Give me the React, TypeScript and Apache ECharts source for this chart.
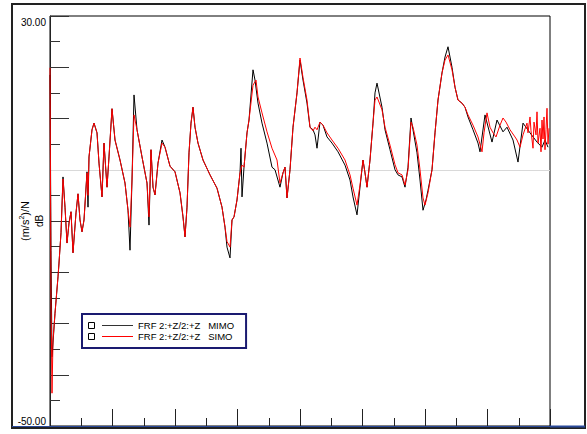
import React, { useEffect, useRef } from "react";
import * as echarts from "echarts";

// Frequency (Hz) and magnitude (dB)
const freqMIMO = [0,1,2,3,5,8,9,11,13,15,17,19,21,23,26,28,30,32,34,37,38,39,42,44,47,49,52,54,57,59,62,65,70,75,78,80,82,84,87,92,97,99,101,103,105,108,112,115,120,125,130,133,135,137,139,141,143,145,148,153,160,167,172,175,177,180,182,184,187,190,191,192,194,197,199,203,205,208,212,217,222,225,230,233,235,237,240,243,247,250,253,257,260,263,265,267,270,273,277,282,288,295,300,303,307,310,313,315,317,320,323,325,327,332,335,340,345,348,352,355,358,361,363,367,370,373,376,378,382,385,388,392,395,398,402,405,408,412,415,418,423,428,430,435,442,447,453,457,463,468,473,480,487,492,495,498];
const dbMIMO = [18.5,-15.7,-36.5,-33.8,-28.0,-20.9,-18.2,-12.3,-1.4,-7.3,-14.3,-10.4,-8.2,-16.2,-8.4,-4.7,-9.8,-12.1,-9.8,-0.4,-7.3,2.5,7.8,9.1,7.2,1.3,-5.3,5.2,-3.4,2.5,11.9,5.8,1.9,-2.6,-7.9,-15.7,-2.0,14.6,7.8,2.5,-2.6,-10.8,3.9,-3.4,-4.9,1.3,5.8,4.4,0.7,-0.4,-4.5,-9.2,-13.1,-7.3,3.3,9.1,12.2,8.3,5.2,1.9,-1.0,-3.6,-7.3,-11.2,-15.1,-17.2,-9.8,-9.2,-5.9,-0.6,4.2,-5.3,0.5,7.2,9.7,19.5,17.5,13.0,9.1,5.2,0.5,0.0,-3.4,-0.6,0.5,-5.5,0.0,8.3,15.0,21.4,17.5,13.0,8.3,7.8,6.8,4.2,9.3,8.7,6.4,5.2,3.5,0.9,-2.0,-5.3,-8.8,-3.4,1.9,-0.6,-3.4,1.9,9.1,15.0,16.9,12.2,7.8,3.9,0.0,-1.0,-1.4,-3.4,0.5,10.1,7.8,3.3,-2.0,-7.9,-5.9,-4.0,0.0,7.2,13.6,18.9,22.0,24.0,20.0,16.1,13.6,13.0,12.2,10.3,7.8,5.2,3.5,10.7,5.4,9.7,7.4,8.3,5.8,1.5,9.1,7.2,5.4,4.4,5.8,4.4];

const freqSIMO = [0,1,2,3,5,8,9,11,13,15,17,19,21,23,26,28,30,32,34,37,38,39,42,44,47,49,52,54,57,59,62,65,70,75,78,80,82,84,87,92,97,99,101,103,105,108,112,115,120,125,130,133,135,137,139,141,143,145,148,153,160,167,172,175,177,180,182,184,187,190,192,194,197,199,203,206,208,212,217,222,227,230,233,235,237,240,243,247,250,253,257,260,263,265,267,270,273,277,282,288,295,300,303,307,310,313,315,317,320,323,325,327,332,335,340,345,348,352,355,358,361,363,367,370,373,375,378,382,385,388,392,395,398,402,405,408,412,415,418,423,428,432,434,437,440,443,446,450,453,456,460,465,467,470,473,477,478,480,481,483,484,486,487,488,490,491,492,493,494,495,496,497,498,499];
const dbSIMO = [19.9,-25.4,-43.6,-33.2,-28.0,-20.9,-18.2,-12.3,-1.8,-7.3,-14.3,-10.4,-8.2,-16.2,-8.4,-4.7,-9.8,-12.1,-9.8,-0.6,-5.0,2.5,7.8,9.1,7.2,1.3,-5.3,5.2,-3.4,2.5,11.9,5.8,1.9,-2.6,-7.9,-11.2,-2.0,10.7,7.8,2.5,-2.6,-9.2,3.9,-3.4,-4.9,1.3,5.2,4.4,0.7,-0.4,-4.5,-9.2,-13.1,-7.3,3.3,9.1,12.2,8.3,5.2,1.9,-1.0,-3.6,-7.3,-11.2,-14.0,-15.1,-9.8,-9.2,-5.9,-0.6,0.9,0.5,7.2,9.7,16.5,17.5,14.2,11.1,7.4,4.2,1.9,-2.6,-0.6,0.5,-5.5,0.0,8.3,15.0,21.8,18.0,13.6,8.3,7.6,8.3,7.8,9.3,8.7,7.2,5.8,4.2,1.9,-1.0,-3.6,-6.9,-3.0,1.9,-0.6,-3.4,1.9,9.1,13.6,14.2,11.7,8.3,4.8,1.0,-0.6,-1.0,-3.0,0.0,9.3,8.3,4.8,0.0,-5.5,-6.9,-4.5,0.0,7.2,13.6,18.9,21.4,22.4,19.5,16.1,13.6,13.0,12.2,10.7,8.7,6.4,3.5,7.2,11.1,8.3,7.2,6.4,8.7,10.1,9.3,7.8,6.4,5.8,4.4,6.8,9.1,7.2,10.3,7.6,4.2,9.3,6.8,11.3,5.2,8.1,3.5,9.7,6.0,10.3,3.9,7.8,12.0,5.0,8.1];

const seriesNames = ["FRF 2:+Z/2:+Z   MIMO", "FRF 2:+Z/2:+Z   SIMO"];
const yTickLabels = ["30.00", "-50.00"];
const yTitle = "{u|(m/s}{s|2}{u|)/N}\n{d|dB}";

const FONT = "'Liberation Sans', Arial, sans-serif";

export default function App() {
  const ref = useRef<HTMLDivElement>(null);
  useEffect(() => {
    if (!ref.current) return;
    const chart = echarts.init(ref.current, null, { renderer: "svg" });
    const mimo = freqMIMO.map((f, i) => [f, dbMIMO[i]]);
    const simo = freqSIMO.map((f, i) => [f, dbSIMO[i]]);
    chart.setOption({
      animation: false,
      backgroundColor: "#ffffff",
      grid: {
        left: 50, right: 37, top: 16, bottom: 8,
        containLabel: false, outerBoundsMode: "none",
        show: true, borderColor: "#000", borderWidth: 1,
      },
      xAxis: {
        type: "value", min: 0, max: 500, interval: 62.5,
        axisLine: { show: true, onZero: false, lineStyle: { color: "#2a4a9a", width: 1 } },
        axisTick: { show: true, inside: true, length: 17, lineStyle: { color: "#222" } },
        minorTick: { show: true, splitNumber: 2, length: 8, lineStyle: { color: "#222" } },
        axisLabel: { show: false },
        splitLine: { show: false },
      },
      yAxis: {
        type: "value", min: -50, max: 30, interval: 10,
        axisLine: { show: true, onZero: false, lineStyle: { color: "#222", width: 1 } },
        axisTick: { show: true, inside: true, length: 19, lineStyle: { color: "#333" } },
        minorTick: { show: true, splitNumber: 2, length: 10, lineStyle: { color: "#333" } },
        splitLine: { show: false },
        axisLabel: {
          show: true, margin: 4,
          formatter: (v: number) => (v === 30 ? `{a|${yTickLabels[0]}}` : v === -50 ? `{b|${yTickLabels[1]}}` : ""),
          rich: {
            a: { fontSize: 10, fontFamily: FONT, color: "#000", padding: [12, 0, 0, 0] },
            b: { fontSize: 10, fontFamily: FONT, color: "#000", padding: [0, 0, 9, 0] },
          },
        },
      },
      legend: {
        orient: "vertical", left: 82, top: 314,
        padding: [6, 12, 6, 20],
        itemGap: 0, itemWidth: 31, itemHeight: 1, icon: "rect",
        borderColor: "#1a1a70", borderWidth: 2, backgroundColor: "#fff",
        textStyle: { fontFamily: FONT, fontSize: 9.5, color: "#000", lineHeight: 11 },
        data: [
          { name: seriesNames[0], itemStyle: { color: "#333" } },
          { name: seriesNames[1], itemStyle: { color: "#ff0000" } },
        ],
      },
      series: [
        {
          name: seriesNames[0], type: "line", data: mimo, showSymbol: false,
          lineStyle: { color: "#000", width: 1 }, itemStyle: { color: "#000" },
          z: 3,
          markLine: {
            silent: true, symbol: "none", label: { show: false },
            lineStyle: { color: "#d9d9d9", type: "solid", width: 1 },
            data: [{ yAxis: 0 }],
            z: 1,
          },
        },
        {
          name: seriesNames[1], type: "line", data: simo, showSymbol: false,
          lineStyle: { color: "#ff0000", width: 1 }, itemStyle: { color: "#ff0000" },
          z: 4,
        },
      ],
      graphic: [
        { type: "rect", z: 100, shape: { x: 12, y: 4, width: 573, height: 424 }, style: { fill: "none", stroke: "#222", lineWidth: 2 } },
        { type: "line", z: 100, shape: { x1: 12, y1: 426.5, x2: 585, y2: 426.5 }, style: { stroke: "#2a4a9a", lineWidth: 1 } },
        { type: "line", z: 100, shape: { x1: 550, y1: 426.5, x2: 585, y2: 426.5 }, style: { stroke: "#2a4a9a", lineWidth: 2 } },
        { type: "rect", z: 100, shape: { x: 88.5, y: 322.5, width: 6, height: 6 }, style: { fill: "#fff", stroke: "#000", lineWidth: 1 } },
        { type: "rect", z: 100, shape: { x: 88.5, y: 333.5, width: 6, height: 6 }, style: { fill: "#fff", stroke: "#000", lineWidth: 1 } },
        {
          type: "text", z: 100, x: 32, y: 221, rotation: Math.PI / 2,
          style: {
            text: yTitle, align: "center", verticalAlign: "middle", lineHeight: 14,
            fontFamily: FONT, fill: "#000",
            rich: {
              u: { fontSize: 11, fontFamily: FONT, fill: "#000", lineHeight: 14 },
              s: { fontSize: 7, fontFamily: FONT, fill: "#000", verticalAlign: "top", lineHeight: 14, padding: [0, 0, 6, 0] },
              d: { fontSize: 10, fontFamily: FONT, fill: "#000", lineHeight: 14 },
            },
          },
        },
      ],
    });
    return () => chart.dispose();
  }, []);
  return (
    <div
      ref={ref}
      style={{ position: "fixed", left: 0, top: 0, width: 587, height: 434, background: "#fff" }}
    />
  );
}
